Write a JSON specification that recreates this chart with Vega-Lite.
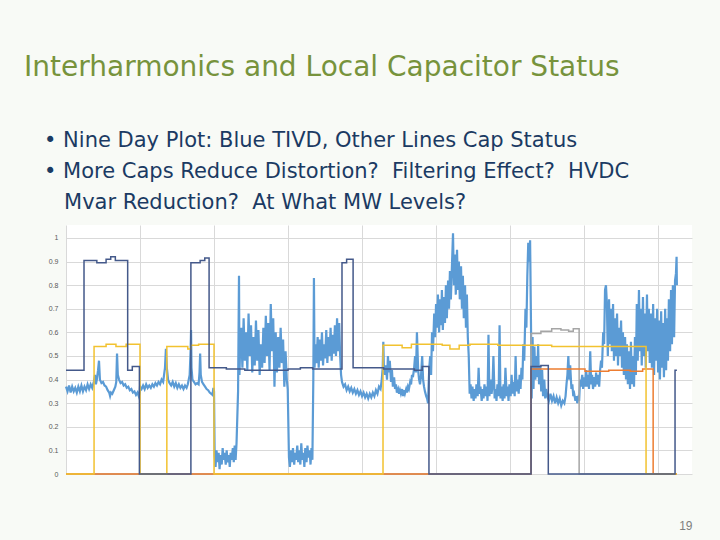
{
"$schema": "https://vega.github.io/schema/vega-lite/v6.json",
"autosize": {"type": "none"},
"width": 626,
"height": 249,
"padding": {"left": 66, "top": 225, "right": 28, "bottom": 66},
"background": "#F8FAF6",
"title": {
  "text": "Interharmonics and Local Capacitor Status",
  "subtitle": ["\u200b\u00a0\u00a0\u00a0\u2022 Nine Day Plot: Blue TIVD, Other Lines Cap Status", "\u200b\u00a0\u00a0\u00a0\u2022 More Caps Reduce Distortion?\u00a0 Filtering Effect?\u00a0 HVDC", "\u200b\u00a0\u00a0\u00a0\u00a0\u00a0\u00a0Mvar Reduction?\u00a0 At What MW Levels?"],
  "anchor": "start", "frame": "group", "dx": -42, "offset": 12,
  "font": "DejaVu Sans", "fontSize": 28, "fontWeight": "normal", "color": "#77933C",
  "subtitleFont": "DejaVu Sans", "subtitleFontSize": 21, "subtitleColor": "#1B3A63", "subtitleLineHeight": 31, "subtitlePadding": 48
},
"config": {"view": {"stroke": null, "fill": "white"}},
"datasets": {
"tivd": [
{"hour":0,"value":0.37},{"hour":0.5,"value":0.35},{"hour":1,"value":0.375},{"hour":1.5,"value":0.345},{"hour":2,"value":0.37},{"hour":2.5,"value":0.35},{"hour":3,"value":0.365},{"hour":3.5,"value":0.345},{"hour":4,"value":0.37},{"hour":4.5,"value":0.35},{"hour":5,"value":0.375},{"hour":5.5,"value":0.35},{"hour":6,"value":0.37},{"hour":6.5,"value":0.355},{"hour":7,"value":0.38},{"hour":7.5,"value":0.36},{"hour":8,"value":0.38},{"hour":8.5,"value":0.365},{"hour":9,"value":0.39},
{"hour":9.4,"value":0.42},{"hour":9.7,"value":0.38},{"hour":10,"value":0.40},{"hour":10.4,"value":0.44},{"hour":10.7,"value":0.48},{"hour":11,"value":0.40},
{"hour":11.5,"value":0.385},{"hour":12,"value":0.39},{"hour":12.5,"value":0.375},{"hour":13,"value":0.37},{"hour":13.5,"value":0.355},{"hour":14,"value":0.345},{"hour":14.3,"value":0.33},{"hour":14.6,"value":0.345},
{"hour":15,"value":0.34},{"hour":15.5,"value":0.355},{"hour":16,"value":0.37},{"hour":16.3,"value":0.39},{"hour":16.55,"value":0.51},{"hour":16.8,"value":0.42},
{"hour":17.2,"value":0.40},{"hour":17.7,"value":0.385},{"hour":18.2,"value":0.39},{"hour":18.7,"value":0.375},{"hour":19.2,"value":0.38},{"hour":19.7,"value":0.365},{"hour":20.2,"value":0.37},{"hour":20.7,"value":0.355},{"hour":21.2,"value":0.36},{"hour":21.7,"value":0.345},{"hour":22.2,"value":0.35},{"hour":22.7,"value":0.335},{"hour":23.2,"value":0.345},{"hour":23.6,"value":0.33},{"hour":23.9,"value":0.345},
{"hour":24,"value":0.37},{"hour":24.5,"value":0.36},{"hour":25,"value":0.375},{"hour":25.5,"value":0.36},{"hour":26,"value":0.38},{"hour":26.5,"value":0.365},{"hour":27,"value":0.375},{"hour":27.5,"value":0.365},{"hour":28,"value":0.38},{"hour":28.5,"value":0.37},{"hour":29,"value":0.385},{"hour":29.5,"value":0.375},{"hour":30,"value":0.39},{"hour":30.5,"value":0.38},{"hour":31,"value":0.40},{"hour":31.5,"value":0.39},{"hour":31.8,"value":0.42},{"hour":32.1,"value":0.45},{"hour":32.4,"value":0.53},{"hour":32.7,"value":0.45},
{"hour":33.1,"value":0.40},{"hour":33.6,"value":0.385},{"hour":34.1,"value":0.375},{"hour":34.6,"value":0.39},{"hour":35.1,"value":0.37},{"hour":35.6,"value":0.385},{"hour":36.1,"value":0.365},{"hour":36.6,"value":0.38},{"hour":37.1,"value":0.365},{"hour":37.6,"value":0.375},{"hour":38.1,"value":0.36},{"hour":38.6,"value":0.375},{"hour":39.1,"value":0.365},{"hour":39.5,"value":0.38},
{"hour":39.8,"value":0.40},{"hour":40.1,"value":0.42},{"hour":40.4,"value":0.52},{"hour":40.55,"value":0.61},{"hour":40.7,"value":0.45},{"hour":41,"value":0.40},{"hour":41.5,"value":0.39},{"hour":42,"value":0.38},{"hour":42.5,"value":0.385},{"hour":43,"value":0.38},{"hour":43.3,"value":0.43},{"hour":43.5,"value":0.51},{"hour":43.7,"value":0.42},{"hour":44.1,"value":0.39},{"hour":44.6,"value":0.38},{"hour":45.1,"value":0.37},{"hour":45.6,"value":0.36},{"hour":46.1,"value":0.355},{"hour":46.6,"value":0.345},{"hour":47.1,"value":0.34},{"hour":47.5,"value":0.335},{"hour":47.8,"value":0.365},{"hour":48,"value":0.35},
{"hour":48.2,"value":0.08},{"hour":48.5,"value":0.03},{"hour":48.8,"value":0.10},{"hour":49.2,"value":0.05},{"hour":49.5,"value":0.09},{"hour":49.8,"value":0.02},{"hour":50.1,"value":0.08},{"hour":50.5,"value":0.04},{"hour":50.8,"value":0.11},{"hour":51.1,"value":0.06},{"hour":51.4,"value":0.09},{"hour":51.8,"value":0.04},{"hour":52.1,"value":0.10},{"hour":52.4,"value":0.05},{"hour":52.8,"value":0.08},{"hour":53.1,"value":0.03},{"hour":53.4,"value":0.09},{"hour":53.7,"value":0.06},{"hour":54.1,"value":0.11},{"hour":54.4,"value":0.05},{"hour":54.7,"value":0.12},{"hour":55.0,"value":0.06},{"hour":55.3,"value":0.13},
{"hour":55.8,"value":0.35},{"hour":56.1,"value":0.84},{"hour":56.25,"value":0.42},{"hour":56.4,"value":0.50},
{"hour":56.8,"value":0.62},{"hour":57.2,"value":0.45},{"hour":57.6,"value":0.66},{"hour":58.0,"value":0.48},{"hour":58.4,"value":0.60},{"hour":58.8,"value":0.44},{"hour":59.2,"value":0.68},{"hour":59.6,"value":0.50},{"hour":60.0,"value":0.63},{"hour":60.4,"value":0.43},{"hour":60.8,"value":0.58},{"hour":61.2,"value":0.46},{"hour":61.6,"value":0.65},{"hour":62.0,"value":0.48},{"hour":62.4,"value":0.61},{"hour":62.8,"value":0.42},{"hour":63.2,"value":0.55},{"hour":63.6,"value":0.45},{"hour":64.0,"value":0.62},{"hour":64.4,"value":0.47},{"hour":64.8,"value":0.67},{"hour":65.2,"value":0.50},{"hour":65.6,"value":0.64},{"hour":66.0,"value":0.44},{"hour":66.4,"value":0.72},{"hour":66.8,"value":0.52},{"hour":67.2,"value":0.66},{"hour":67.6,"value":0.37},{"hour":68.0,"value":0.60},{"hour":68.4,"value":0.43},{"hour":68.8,"value":0.58},{"hour":69.2,"value":0.45},{"hour":69.6,"value":0.62},{"hour":70.0,"value":0.47},{"hour":70.4,"value":0.57},{"hour":70.8,"value":0.37},{"hour":71.2,"value":0.52},{"hour":71.6,"value":0.40},{"hour":71.9,"value":0.36},
{"hour":72.3,"value":0.07},{"hour":72.6,"value":0.03},{"hour":73.0,"value":0.10},{"hour":73.3,"value":0.05},{"hour":73.6,"value":0.11},{"hour":74.0,"value":0.04},{"hour":74.3,"value":0.09},{"hour":74.6,"value":0.06},{"hour":75.0,"value":0.12},{"hour":75.3,"value":0.05},{"hour":75.6,"value":0.10},{"hour":76.0,"value":0.04},{"hour":76.3,"value":0.13},{"hour":76.6,"value":0.06},{"hour":77.0,"value":0.09},{"hour":77.3,"value":0.03},{"hour":77.6,"value":0.11},{"hour":78.0,"value":0.05},{"hour":78.3,"value":0.12},{"hour":78.6,"value":0.07},{"hour":79.0,"value":0.10},{"hour":79.3,"value":0.04},{"hour":79.6,"value":0.11},{"hour":79.9,"value":0.06},
{"hour":80.2,"value":0.40},{"hour":80.4,"value":0.83},{"hour":80.6,"value":0.45},
{"hour":80.9,"value":0.55},{"hour":81.25,"value":0.47},{"hour":81.6,"value":0.58},{"hour":81.95,"value":0.45},{"hour":82.3,"value":0.57},{"hour":82.65,"value":0.48},{"hour":83.0,"value":0.60},{"hour":83.35,"value":0.46},{"hour":83.7,"value":0.55},{"hour":84.05,"value":0.49},{"hour":84.4,"value":0.61},{"hour":84.75,"value":0.47},{"hour":85.1,"value":0.58},{"hour":85.45,"value":0.50},{"hour":85.8,"value":0.62},{"hour":86.15,"value":0.48},{"hour":86.5,"value":0.59},{"hour":86.85,"value":0.51},{"hour":87.2,"value":0.63},{"hour":87.55,"value":0.50},{"hour":87.9,"value":0.66},{"hour":88.25,"value":0.52},{"hour":88.6,"value":0.64},{"hour":88.9,"value":0.50},
{"hour":89.2,"value":0.42},{"hour":89.5,"value":0.39},
{"hour":90.0,"value":0.37},{"hour":90.5,"value":0.38},{"hour":91.0,"value":0.355},{"hour":91.5,"value":0.37},{"hour":92.0,"value":0.35},{"hour":92.5,"value":0.365},{"hour":93.0,"value":0.345},{"hour":93.5,"value":0.36},{"hour":94.0,"value":0.34},{"hour":94.5,"value":0.355},{"hour":95.0,"value":0.335},{"hour":95.5,"value":0.35},{"hour":96.0,"value":0.33},{"hour":96.5,"value":0.345},{"hour":97.0,"value":0.325},{"hour":97.5,"value":0.34},{"hour":98.0,"value":0.32},{"hour":98.5,"value":0.34},{"hour":99.0,"value":0.325},{"hour":99.5,"value":0.345},{"hour":100.0,"value":0.33},{"hour":100.5,"value":0.355},{"hour":101.0,"value":0.34},{"hour":101.5,"value":0.37},{"hour":102.0,"value":0.36},{"hour":102.4,"value":0.40},{"hour":102.7,"value":0.45},{"hour":102.9,"value":0.56},{"hour":103.1,"value":0.44},
{"hour":103.4,"value":0.42},{"hour":103.7,"value":0.46},{"hour":104.1,"value":0.40},{"hour":104.4,"value":0.50},{"hour":104.7,"value":0.43},{"hour":105.0,"value":0.48},{"hour":105.4,"value":0.39},{"hour":105.7,"value":0.44},{"hour":106.0,"value":0.37},{"hour":106.4,"value":0.41},{"hour":106.7,"value":0.36},{"hour":107.0,"value":0.38},{"hour":107.3,"value":0.345},{"hour":107.7,"value":0.36},{"hour":108.0,"value":0.34},{"hour":108.3,"value":0.355},
{"hour":108.6,"value":0.34},{"hour":109.0,"value":0.36},{"hour":109.3,"value":0.33},{"hour":109.6,"value":0.355},{"hour":109.9,"value":0.34},{"hour":110.3,"value":0.36},{"hour":110.6,"value":0.345},{"hour":110.9,"value":0.37},{"hour":111.2,"value":0.36},{"hour":111.6,"value":0.39},{"hour":111.9,"value":0.38},{"hour":112.2,"value":0.42},{"hour":112.5,"value":0.41},{"hour":112.9,"value":0.45},
{"hour":113.2,"value":0.50},{"hour":113.5,"value":0.43},{"hour":113.8,"value":0.60},{"hour":114.2,"value":0.44},{"hour":114.5,"value":0.40},{"hour":114.8,"value":0.38},{"hour":115.1,"value":0.41},{"hour":115.5,"value":0.50},{"hour":115.8,"value":0.40},{"hour":116.1,"value":0.37},{"hour":116.4,"value":0.35},{"hour":116.8,"value":0.33},{"hour":117.1,"value":0.32},{"hour":117.4,"value":0.30},{"hour":117.6,"value":0.38},{"hour":117.8,"value":0.45},
{"hour":118.1,"value":0.50},{"hour":118.4,"value":0.42},{"hour":118.7,"value":0.60},{"hour":119.0,"value":0.52},{"hour":119.4,"value":0.68},{"hour":119.7,"value":0.58},{"hour":120.0,"value":0.72},
{"hour":120.3,"value":0.62},{"hour":120.6,"value":0.76},{"hour":121.0,"value":0.60},{"hour":121.3,"value":0.74},{"hour":121.6,"value":0.63},{"hour":121.9,"value":0.78},{"hour":122.2,"value":0.61},{"hour":122.6,"value":0.75},{"hour":122.9,"value":0.64},{"hour":123.2,"value":0.80},{"hour":123.5,"value":0.66},{"hour":123.9,"value":0.82},{"hour":124.2,"value":0.70},{"hour":124.5,"value":0.86},{"hour":124.8,"value":0.74},{"hour":125.2,"value":0.90},{"hour":125.5,"value":1.02},{"hour":125.8,"value":0.80},
{"hour":126.1,"value":0.93},{"hour":126.4,"value":0.76},{"hour":126.8,"value":0.95},{"hour":127.1,"value":0.78},{"hour":127.4,"value":0.90},{"hour":127.7,"value":0.74},{"hour":128.1,"value":0.88},{"hour":128.4,"value":0.70},{"hour":128.7,"value":0.84},{"hour":129.0,"value":0.66},{"hour":129.4,"value":0.80},{"hour":129.7,"value":0.62},{"hour":130.0,"value":0.76},{"hour":130.3,"value":0.58},
{"hour":130.6,"value":0.50},{"hour":130.9,"value":0.34},
{"hour":131.2,"value":0.38},{"hour":131.5,"value":0.32},{"hour":131.8,"value":0.37},{"hour":132.2,"value":0.31},{"hour":132.5,"value":0.36},{"hour":132.8,"value":0.32},{"hour":133.1,"value":0.38},{"hour":133.5,"value":0.33},{"hour":133.8,"value":0.45},{"hour":134.1,"value":0.34},{"hour":134.4,"value":0.37},{"hour":134.8,"value":0.31},{"hour":135.1,"value":0.36},{"hour":135.4,"value":0.32},{"hour":135.7,"value":0.38},{"hour":136.0,"value":0.33},{"hour":136.4,"value":0.37},{"hour":136.7,"value":0.31},{"hour":137.0,"value":0.59},{"hour":137.3,"value":0.33},{"hour":137.7,"value":0.40},{"hour":138.0,"value":0.34},{"hour":138.3,"value":0.37},{"hour":138.6,"value":0.50},{"hour":139.0,"value":0.32},{"hour":139.3,"value":0.36},{"hour":139.6,"value":0.31},{"hour":139.9,"value":0.38},{"hour":140.3,"value":0.33},{"hour":140.6,"value":0.63},{"hour":140.9,"value":0.32},{"hour":141.2,"value":0.37},{"hour":141.6,"value":0.31},{"hour":141.9,"value":0.38},{"hour":142.2,"value":0.32},{"hour":142.5,"value":0.45},{"hour":142.9,"value":0.33},{"hour":143.2,"value":0.37},{"hour":143.5,"value":0.31},{"hour":143.8,"value":0.38},{"hour":144.2,"value":0.33},{"hour":144.5,"value":0.42},{"hour":144.8,"value":0.34},{"hour":145.1,"value":0.39},{"hour":145.5,"value":0.33},{"hour":145.8,"value":0.50},{"hour":146.1,"value":0.35},{"hour":146.4,"value":0.40},{"hour":146.8,"value":0.34},{"hour":147.1,"value":0.42},{"hour":147.4,"value":0.36},{"hour":147.7,"value":0.45},
{"hour":148.0,"value":0.40},{"hour":148.3,"value":0.55},{"hour":148.6,"value":0.48},{"hour":149.0,"value":0.70},{"hour":149.3,"value":0.62},{"hour":149.6,"value":0.84},{"hour":149.9,"value":0.98},{"hour":150.2,"value":0.90},{"hour":150.5,"value":0.99},
{"hour":150.8,"value":0.62},{"hour":151.0,"value":0.32},{"hour":151.3,"value":0.58},{"hour":151.6,"value":0.36},{"hour":151.9,"value":0.54},{"hour":152.2,"value":0.40},{"hour":152.5,"value":0.50},
{"hour":152.8,"value":0.41},{"hour":153.1,"value":0.55},{"hour":153.4,"value":0.38},{"hour":153.8,"value":0.46},{"hour":154.1,"value":0.35},{"hour":154.4,"value":0.44},{"hour":154.7,"value":0.33},{"hour":155.1,"value":0.40},{"hour":155.4,"value":0.32},{"hour":155.7,"value":0.36},
{"hour":156.1,"value":0.33},{"hour":156.6,"value":0.31},{"hour":157.1,"value":0.34},{"hour":157.6,"value":0.31},{"hour":158.1,"value":0.33},{"hour":158.6,"value":0.30},{"hour":159.1,"value":0.325},{"hour":159.6,"value":0.30},{"hour":160.1,"value":0.32},{"hour":160.6,"value":0.29},{"hour":161.1,"value":0.31},{"hour":161.6,"value":0.30},{"hour":162.0,"value":0.33},
{"hour":162.3,"value":0.38},{"hour":162.6,"value":0.42},{"hour":162.9,"value":0.50},{"hour":163.2,"value":0.40},{"hour":163.5,"value":0.46},{"hour":163.9,"value":0.36},{"hour":164.2,"value":0.38},{"hour":164.5,"value":0.33},{"hour":164.8,"value":0.34},{"hour":165.2,"value":0.31},{"hour":165.5,"value":0.33},{"hour":165.8,"value":0.30},{"hour":166.1,"value":0.32},{"hour":166.4,"value":0.31},
{"hour":166.7,"value":0.40},{"hour":167.0,"value":0.37},{"hour":167.4,"value":0.42},{"hour":167.7,"value":0.36},{"hour":168.0,"value":0.41},{"hour":168.3,"value":0.37},{"hour":168.7,"value":0.44},{"hour":169.0,"value":0.37},{"hour":169.3,"value":0.42},{"hour":169.6,"value":0.36},{"hour":170.0,"value":0.52},{"hour":170.3,"value":0.38},{"hour":170.6,"value":0.42},{"hour":170.9,"value":0.36},{"hour":171.3,"value":0.41},{"hour":171.6,"value":0.37},{"hour":171.9,"value":0.43},{"hour":172.2,"value":0.38},{"hour":172.6,"value":0.42},{"hour":172.9,"value":0.37},{"hour":173.2,"value":0.44},
{"hour":173.5,"value":0.48},{"hour":173.8,"value":0.45},{"hour":174.2,"value":0.60},{"hour":174.5,"value":0.55},{"hour":174.8,"value":0.78},{"hour":175.1,"value":0.80},{"hour":175.4,"value":0.72},
{"hour":175.7,"value":0.50},{"hour":176.1,"value":0.74},{"hour":176.4,"value":0.55},{"hour":176.7,"value":0.70},{"hour":177.0,"value":0.52},{"hour":177.4,"value":0.72},{"hour":177.7,"value":0.48},{"hour":178.0,"value":0.66},{"hour":178.3,"value":0.50},{"hour":178.7,"value":0.68},{"hour":179.0,"value":0.46},{"hour":179.3,"value":0.62},{"hour":179.6,"value":0.50},{"hour":180.0,"value":0.65},{"hour":180.3,"value":0.45},{"hour":180.6,"value":0.60},{"hour":180.9,"value":0.42},{"hour":181.3,"value":0.58},{"hour":181.6,"value":0.40},
{"hour":181.9,"value":0.55},{"hour":182.2,"value":0.38},{"hour":182.5,"value":0.52},{"hour":182.9,"value":0.36},{"hour":183.2,"value":0.56},{"hour":183.5,"value":0.38},{"hour":183.8,"value":0.50},{"hour":184.2,"value":0.37},{"hour":184.5,"value":0.58},{"hour":184.8,"value":0.42},
{"hour":185.1,"value":0.72},{"hour":185.4,"value":0.48},{"hour":185.8,"value":0.78},{"hour":186.1,"value":0.52},{"hour":186.4,"value":0.70},{"hour":186.7,"value":0.46},{"hour":187.1,"value":0.75},{"hour":187.4,"value":0.50},{"hour":187.7,"value":0.68},{"hour":188.0,"value":0.45},{"hour":188.4,"value":0.76},{"hour":188.7,"value":0.52},{"hour":189.0,"value":0.70},{"hour":189.3,"value":0.47},
{"hour":189.7,"value":0.68},{"hour":190.0,"value":0.45},{"hour":190.4,"value":0.72},{"hour":190.7,"value":0.42},{"hour":191.0,"value":0.66},{"hour":191.3,"value":0.48},{"hour":191.7,"value":0.70},{"hour":192.0,"value":0.43},{"hour":192.3,"value":0.65},{"hour":192.6,"value":0.40},{"hour":193.0,"value":0.69},{"hour":193.3,"value":0.45},{"hour":193.6,"value":0.64},{"hour":193.9,"value":0.41},{"hour":194.3,"value":0.70},{"hour":194.6,"value":0.44},{"hour":194.9,"value":0.66},
{"hour":195.2,"value":0.48},{"hour":195.5,"value":0.74},{"hour":195.9,"value":0.52},{"hour":196.2,"value":0.78},{"hour":196.5,"value":0.55},{"hour":196.8,"value":0.80},{"hour":197.2,"value":0.58},{"hour":197.5,"value":0.82},{"hour":197.8,"value":0.85},{"hour":198.0,"value":0.92},{"hour":198.1,"value":0.80}
],
"capGrey": [
{"hour":0,"value":0},{"hour":150.8,"value":0.595},{"hour":154,"value":0.605},{"hour":157.5,"value":0.615},{"hour":160.5,"value":0.61},{"hour":163,"value":0.605},{"hour":164.5,"value":0.615},{"hour":166.4,"value":0},{"hour":198.1,"value":0}
],
"capOrange": [
{"hour":0,"value":0},{"hour":150.8,"value":0.445},{"hour":168.3,"value":0.435},{"hour":176,"value":0.44},{"hour":183,"value":0.435},{"hour":187,"value":0.445},{"hour":190.4,"value":0},{"hour":198.1,"value":0}
],
"capYellow": [
{"hour":0,"value":0},{"hour":9.1,"value":0.54},{"hour":13,"value":0.55},{"hour":16.2,"value":0.54},{"hour":19.5,"value":0.55},{"hour":24.0,"value":0},{"hour":32.7,"value":0.54},{"hour":39.5,"value":0.53},{"hour":40.5,"value":0.545},{"hour":43,"value":0.55},{"hour":48.0,"value":0},{"hour":102.8,"value":0.545},{"hour":109,"value":0.535},{"hour":112,"value":0.55},{"hour":122,"value":0.545},{"hour":124.5,"value":0.53},{"hour":127.5,"value":0.545},{"hour":131,"value":0.55},{"hour":140,"value":0.545},{"hour":157.5,"value":0.54},{"hour":188.1,"value":0},{"hour":198.1,"value":0}
],
"capNavy": [
{"hour":0,"value":0.44},{"hour":5.84,"value":0.905},{"hour":10,"value":0.895},{"hour":13,"value":0.91},{"hour":14.5,"value":0.92},{"hour":16,"value":0.905},{"hour":20.0,"value":0.44},{"hour":21.5,"value":0.455},{"hour":23.8,"value":0},{"hour":40.5,"value":0.895},{"hour":43.5,"value":0.905},{"hour":45,"value":0.915},{"hour":46.4,"value":0.45},{"hour":52,"value":0.445},{"hour":58,"value":0.44},{"hour":72,"value":0.445},{"hour":76,"value":0.45},{"hour":80,"value":0.445},{"hour":89.5,"value":0.895},{"hour":91,"value":0.91},{"hour":93.1,"value":0.45},{"hour":103,"value":0.445},{"hour":113,"value":0.44},{"hour":115.5,"value":0.455},{"hour":117.7,"value":0},{"hour":150.8,"value":0.455},{"hour":154,"value":0.46},{"hour":156.4,"value":0},{"hour":197.5,"value":0.44},{"hour":198.1,"value":0.44}
]
},
"encoding": {
  "x": {"field": "hour", "type": "quantitative",
        "scale": {"domain": [0, 203], "nice": false, "zero": false},
        "axis": {"values": [0, 24, 48, 72, 96, 120, 144, 168, 192], "labels": false, "ticks": false, "domain": false, "grid": true, "gridColor": "#D9D9D9",
                 "title": "19", "titleAnchor": "end", "titleAlign": "right", "titleFont": "Liberation Sans", "titleFontSize": 12, "titleFontWeight": "normal", "titleColor": "#7F7F7F", "titlePadding": 46}},
  "y": {"field": "value", "type": "quantitative",
        "scale": {"domain": [0, 1.055], "nice": false},
        "axis": {"values": [0, 0.1, 0.2, 0.3, 0.4, 0.5, 0.6, 0.7, 0.8, 0.9, 1], "format": ".1~f", "labelFont": "Liberation Sans", "labelFontSize": 7, "labelColor": "#595959", "labelPadding": 8, "ticks": false, "domain": false, "grid": true, "gridColor": "#D9D9D9", "title": null}}
},
"layer": [
  {"data": {"name": "tivd"}, "mark": {"type": "line", "color": "#5B9BD5", "strokeWidth": 2.2}},
  {"data": {"name": "capGrey"}, "mark": {"type": "line", "color": "#A5A5A5", "strokeWidth": 1.5, "interpolate": "step-after"}},
  {"data": {"name": "capOrange"}, "mark": {"type": "line", "color": "#ED7D31", "strokeWidth": 1.5, "interpolate": "step-after"}},
  {"data": {"name": "capYellow"}, "mark": {"type": "line", "color": "#F2C230", "strokeWidth": 1.5, "interpolate": "step-after"}},
  {"data": {"name": "capNavy"}, "mark": {"type": "line", "color": "#44598A", "strokeWidth": 1.5, "interpolate": "step-after"}}
]
}
